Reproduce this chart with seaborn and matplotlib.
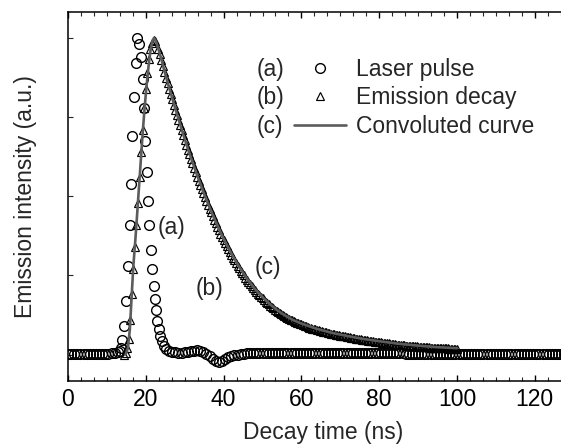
import numpy as np
import pandas as pd
import seaborn as sns
import matplotlib.pyplot as plt
from matplotlib.lines import Line2D
from matplotlib.ticker import MultipleLocator

# ---- (a) laser pulse -------------------------------------------------------
# before the pulse, sampled every 0.8 ns from 0 ns
laser_pre_start, laser_step = 0.0, 0.8
laser_pre = [0.002, 0.003, 0.002, 0.002, 0.003, 0.002, 0.002, 0.003, 0.002, 0.002,
             0.003, 0.002, 0.003, 0.003, 0.004, 0.005, 0.008]
# the pulse itself
laser_pulse_t = [13.3, 13.6, 14.0, 14.4, 14.9, 15.5, 15.9, 16.2, 16.5, 17.0,
                 17.5, 17.8, 18.3, 18.8, 19.2, 19.5, 19.9, 20.2, 20.6, 20.9,
                 21.3, 21.6, 22.0, 22.4, 22.7, 23.0, 23.3, 23.7, 24.2, 24.7,
                 25.3]
laser_pulse = [0.010, 0.020, 0.045, 0.090, 0.170, 0.280, 0.410, 0.540, 0.690, 0.815,
               0.920, 1.000, 0.980, 0.940, 0.870, 0.780, 0.675, 0.575, 0.485, 0.410,
               0.330, 0.270, 0.215, 0.175, 0.140, 0.105, 0.080, 0.058, 0.042, 0.026,
               0.016]
# after the pulse, sampled every 0.8 ns from 26 ns
laser_post_start = 26.0
laser_post = [0.010, 0.008, 0.007, 0.006, 0.006, 0.007, 0.008, 0.010, 0.012, 0.013,
              0.012, 0.008, 0.002, -0.006, -0.014, -0.021, -0.024, -0.020, -0.014, -0.009,
              -0.005, -0.002, 0.000, 0.002, 0.003, 0.004, 0.004, 0.005, 0.005, 0.005,
              0.005, 0.004, 0.005, 0.006, 0.005, 0.004, 0.005, 0.005, 0.006, 0.005,
              0.005, 0.004, 0.005, 0.005, 0.006, 0.005, 0.004, 0.005, 0.005, 0.005,
              0.006, 0.005, 0.004, 0.005, 0.005, 0.006, 0.005, 0.004, 0.005, 0.005,
              0.005, 0.004, 0.005, 0.006, 0.005, 0.004, 0.005, 0.005, 0.005, 0.004,
              0.005, 0.005, 0.004, 0.005, 0.004, 0.004, 0.003, 0.003, 0.003, 0.002,
              0.003, 0.002, 0.002, 0.003, 0.002, 0.002, 0.003, 0.002, 0.002, 0.002,
              0.003, 0.002, 0.002, 0.003, 0.002, 0.002, 0.002, 0.003, 0.002, 0.002,
              0.002, 0.002, 0.003, 0.002, 0.002, 0.002, 0.003, 0.002, 0.002, 0.002,
              0.002, 0.003, 0.002, 0.002, 0.002, 0.002, 0.003, 0.002, 0.002, 0.002,
              0.002, 0.002, 0.003, 0.002, 0.002, 0.002, 0.002, 0.003, 0.002, 0.002,
              0.002, 0.002]

# ---- (b) emission decay ----------------------------------------------------
decay_rise_t = [14.4, 14.8, 15.2, 15.6, 16.0, 16.4, 16.8, 17.2, 17.6, 18.0,
                18.4, 18.8, 19.2, 19.6, 20.0, 20.4, 20.8, 21.2, 21.6, 22.0,
                22.4, 22.8]
decay_rise = [0.000, 0.005, 0.020, 0.050, 0.110, 0.190, 0.270, 0.340, 0.410, 0.480,
              0.560, 0.640, 0.710, 0.780, 0.840, 0.890, 0.935, 0.965, 0.985, 0.995,
              0.990, 0.980]
# tail, sampled every 0.4 ns from 23.2 ns to 100 ns
decay_tail_start, decay_step = 23.2, 0.4
decay_tail = [0.965, 0.948, 0.930, 0.911, 0.892, 0.874, 0.857, 0.840, 0.823, 0.806,
              0.789, 0.772, 0.756, 0.740, 0.724, 0.708, 0.692, 0.677, 0.662, 0.647,
              0.632, 0.618, 0.604, 0.590, 0.576, 0.562, 0.549, 0.536, 0.523, 0.510,
              0.497, 0.485, 0.473, 0.461, 0.449, 0.437, 0.426, 0.415, 0.404, 0.393,
              0.382, 0.372, 0.362, 0.352, 0.342, 0.333, 0.324, 0.315, 0.306, 0.297,
              0.289, 0.281, 0.273, 0.265, 0.257, 0.250, 0.243, 0.236, 0.229, 0.222,
              0.216, 0.210, 0.204, 0.198, 0.192, 0.187, 0.182, 0.177, 0.172, 0.167,
              0.162, 0.158, 0.154, 0.150, 0.146, 0.142, 0.138, 0.134, 0.130, 0.127,
              0.124, 0.121, 0.118, 0.115, 0.113, 0.110, 0.108, 0.105, 0.103, 0.101,
              0.099, 0.097, 0.095, 0.093, 0.091, 0.089, 0.087, 0.085, 0.084, 0.082,
              0.081, 0.079, 0.078, 0.076, 0.075, 0.073, 0.072, 0.071, 0.070, 0.068,
              0.067, 0.066, 0.065, 0.064, 0.063, 0.062, 0.061, 0.060, 0.059, 0.058,
              0.057, 0.056, 0.055, 0.054, 0.053, 0.052, 0.051, 0.050, 0.050, 0.049,
              0.048, 0.047, 0.046, 0.046, 0.045, 0.044, 0.044, 0.043, 0.042, 0.041,
              0.040, 0.040, 0.039, 0.038, 0.037, 0.037, 0.036, 0.035, 0.035, 0.034,
              0.033, 0.033, 0.032, 0.031, 0.031, 0.030, 0.030, 0.029, 0.029, 0.028,
              0.028, 0.027, 0.027, 0.027, 0.027, 0.026, 0.026, 0.025, 0.025, 0.024,
              0.024, 0.023, 0.023, 0.023, 0.023, 0.022, 0.022, 0.022, 0.022, 0.021,
              0.021, 0.020, 0.020, 0.020, 0.020, 0.019, 0.019, 0.018, 0.018, 0.018,
              0.018, 0.017, 0.017]

# ---- (c) convoluted curve --------------------------------------------------
conv_t = [14.8, 15.4, 15.9, 16.3, 16.8, 17.3, 17.7, 18.2, 18.7, 19.2,
          19.7, 20.2, 20.7, 21.2, 21.7, 22.1, 22.6, 23.2, 24.0, 25.0,
          26.0, 27.0, 28.0, 29.0, 30.0, 31.0, 32.0, 33.0, 34.0, 35.0,
          36.0, 37.0, 38.0, 39.0, 40.0, 42.0, 44.0, 46.0, 48.0, 50.0,
          52.0, 54.0, 56.0, 58.0, 60.0, 64.0, 68.0, 72.0, 76.0, 80.0,
          85.0, 90.0, 95.0, 100.0]
conv = [0.000, 0.020, 0.080, 0.170, 0.280, 0.360, 0.430, 0.520, 0.610, 0.700,
        0.780, 0.850, 0.910, 0.960, 0.990, 1.000, 0.990, 0.967, 0.933, 0.886,
        0.843, 0.801, 0.760, 0.720, 0.681, 0.643, 0.608, 0.573, 0.540, 0.507,
        0.477, 0.447, 0.419, 0.392, 0.366, 0.319, 0.277, 0.240, 0.208, 0.181,
        0.158, 0.138, 0.122, 0.108, 0.098, 0.081, 0.068, 0.058, 0.049, 0.042,
        0.034, 0.028, 0.023, 0.020]

legend_tags = ["(a)", "(b)", "(c)"]
legend_names = ["Laser pulse", "Emission decay", "Convoluted curve"]
xlabel = "Decay time (ns)"
ylabel = "Emission intensity (a.u.)"

# ---- assemble tables --------------------------------------------------------
t_pre = laser_pre_start + laser_step * np.arange(len(laser_pre))
t_post = laser_post_start + laser_step * np.arange(len(laser_post))
laser_df = pd.DataFrame({
    "t": np.concatenate([t_pre, laser_pulse_t, t_post]),
    "I": np.concatenate([laser_pre, laser_pulse, laser_post]),
})
t_tail = decay_tail_start + decay_step * np.arange(len(decay_tail))
decay_df = pd.DataFrame({
    "t": np.concatenate([decay_rise_t[:-1], t_tail]),
    "I": np.concatenate([decay_rise[:-1], decay_tail]),
})
conv_df = pd.DataFrame({"t": conv_t, "I": conv})

# ---- figure ------------------------------------------------------------------
sns.set_theme(style="ticks")
plt.rcParams["font.family"] = ["Liberation Sans", "DejaVu Sans"]
FS = 16.5
LINE_GREY = "#5c5c5c"
CIRC = dict(marker="o", markersize=7, markerfacecolor="none",
            markeredgecolor="black", markeredgewidth=1.0)
TRI = dict(marker="^", markersize=5.6, markerfacecolor="none",
           markeredgecolor="black", markeredgewidth=0.85)

W, H = 561, 447
ax_left, ax_right, ax_top, ax_bottom = 68, 578, 12, 381  # pixel frame of the axes
px_per_ns = 3.89
fig = plt.figure(figsize=(W / 100, H / 100), dpi=100)
ax = fig.add_axes([ax_left / W, 1 - ax_bottom / H,
                   (ax_right - ax_left) / W, (ax_bottom - ax_top) / H])

sns.lineplot(data=laser_df, x="t", y="I", ax=ax, estimator=None, sort=False,
             linestyle="", color="black", **CIRC)
sns.lineplot(data=decay_df, x="t", y="I", ax=ax, estimator=None, sort=False,
             linestyle="", color="black", **TRI)
sns.lineplot(data=conv_df, x="t", y="I", ax=ax, estimator=None, sort=False,
             color=LINE_GREY, linewidth=1.9)

ax.set_xlim(0, (ax_right - ax_left) / px_per_ns)
ax.set_ylim(-0.0837, 1.082)

ax.xaxis.set_major_locator(MultipleLocator(20))
ax.xaxis.set_minor_locator(MultipleLocator(20 / 6))
ax.yaxis.set_major_locator(MultipleLocator(0.25))
ax.tick_params(axis="x", which="major", direction="in", length=4.5, width=1,
               top=True, labelsize=FS, pad=5, colors="black")
ax.tick_params(axis="x", which="minor", direction="in", length=3, width=0.8, top=True)
ax.tick_params(axis="y", which="major", direction="in", length=3.5, width=0.8,
               labelleft=False)
for side in ("left", "bottom", "top"):
    ax.spines[side].set_linewidth(1.1)
    ax.spines[side].set_color("black")
ax.spines["right"].set_visible(False)

ax.set_xlabel(xlabel, fontsize=FS, labelpad=7)
ax.set_ylabel(ylabel, fontsize=FS, labelpad=22)

# curve tags
ax.text(26.7, 0.40, "(a)", fontsize=FS, ha="center", va="center")
ax.text(36.5, 0.21, "(b)", fontsize=FS, ha="center", va="center")
ax.text(51.4, 0.276, "(c)", fontsize=FS, ha="center", va="center")

# legend: tag column + symbol/name column
blank = Line2D([], [], linestyle="", marker="")
h_laser = Line2D([], [], linestyle="", **CIRC)
h_decay = Line2D([], [], linestyle="", **TRI)
h_conv = Line2D([], [], color=LINE_GREY, linewidth=1.9)
ax.legend([blank, blank, blank, h_laser, h_decay, h_conv],
          legend_tags + legend_names, ncol=2, frameon=False, fontsize=FS,
          handlelength=2.3, handletextpad=0.44, columnspacing=0.4,
          labelspacing=0.235, borderaxespad=0, borderpad=0,
          loc="upper left", bbox_to_anchor=(0.247, 0.876))

fig.savefig("out.png", dpi=100)
